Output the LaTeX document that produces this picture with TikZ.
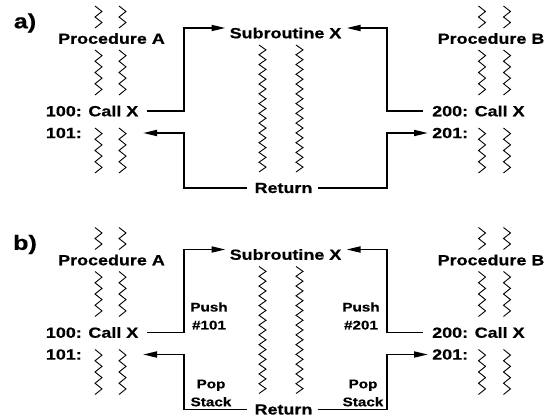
\documentclass[tikz,border=0pt]{standalone}
\usepackage{fontspec}
\setmainfont{Liberation Sans}[FakeStretch=1.22,FakeBold=0.6]
\usetikzlibrary{arrows.meta}
\newcommand\zzcol[4]{% x, ytop, ybot, segments
  \draw[zz] ({#1-3.5},#2) \foreach \k in {1,...,#4}{ -- ({#1+7*mod(\k,2)-3.5},{#2+\k*(#3-#2)/#4}) };}
\newcommand\panel[2]{% suffix, panel label
  \node[panellbl] (pl#1) at (25,23) {#2};
  \node[lbl] (procA#1) at (111.5,38.5) {Procedure A};
  \node[lbl, anchor=west] (callA#1) at (45.7,111) {100: Call X};
  \node[lbl, anchor=west] (retA#1) at (45.7,133) {101:};
  \node[lbl] (subX#1) at (285.5,33) {Subroutine X};
  \node[lbl] (ret#1) at (283.5,188) {Return};
  \node[lbl] (procB#1) at (491,38.5) {Procedure B};
  \node[lbl, anchor=west] (callB#1) at (432,111) {200: Call X};
  \node[lbl, anchor=west] (retB#1) at (432,133) {201:};
  \coordinate (c1#1) at (184,28);
  \coordinate (c2#1) at (184,189);
  \coordinate (c3#1) at (387,28);
  \coordinate (c4#1) at (387,189);
  \coordinate (tA#1) at (143,133);
  \draw[arr] ([xshift=9pt]callA#1.east) -| (c1#1) -- ([xshift=-4pt]subX#1.west |- c1#1);
  \draw[arr] ([xshift=-7pt]ret#1.west) -| (tA#1 -| c2#1) -- (tA#1);
  \draw[arr] ([xshift=-9pt]callB#1.west) -| (c3#1) -- ([xshift=5pt]subX#1.east |- c3#1);
  \draw[arr] ([xshift=5pt]ret#1.east) -| (c4#1 |- retB#1) -- ([xshift=-4pt]retB#1.west);
  \foreach \xx in {98.5,122.5,482,507}{
    \zzcol{\xx}{6}{28}{4}
    \zzcol{\xx}{50}{95}{8}
    \zzcol{\xx}{128}{173}{8}
  }
  \foreach \xx in {262.5,299.5}{\zzcol{\xx}{45}{172}{26}}
}
\begin{document}
\begin{tikzpicture}[x=1pt,y=-1pt,
  lbl/.style={font=\bfseries\fontsize{14.7}{17}\selectfont, inner sep=0pt},
  small/.style={font=\bfseries\fontsize{12.5}{18}\selectfont, inner sep=0pt, align=center},
  panellbl/.style={font=\bfseries\fontsize{20.5}{22}\selectfont, inner sep=0pt},
  conn/.style={line width=1.8pt},
  arr/.style={conn, -{Triangle[length=14pt,width=6pt]}},
  zz/.style={line width=0.9pt, line join=miter}]
\useasboundingbox (0,0) rectangle (545,417);
\begin{scope}
  \panel{a}{a)}
\end{scope}
\begin{scope}[shift={(0,221.5)}]
  \panel{b}{b)}
  \node[small] (push1) at (209,94.5) {Push\\\#101};
  \node[small] (pop1) at (211,171.5) {Pop\\Stack};
  \node[small] (push2) at (361,94.5) {Push\\\#201};
  \node[small] (pop2) at (363,171.5) {Pop\\Stack};
\end{scope}
\end{tikzpicture}
\end{document}
